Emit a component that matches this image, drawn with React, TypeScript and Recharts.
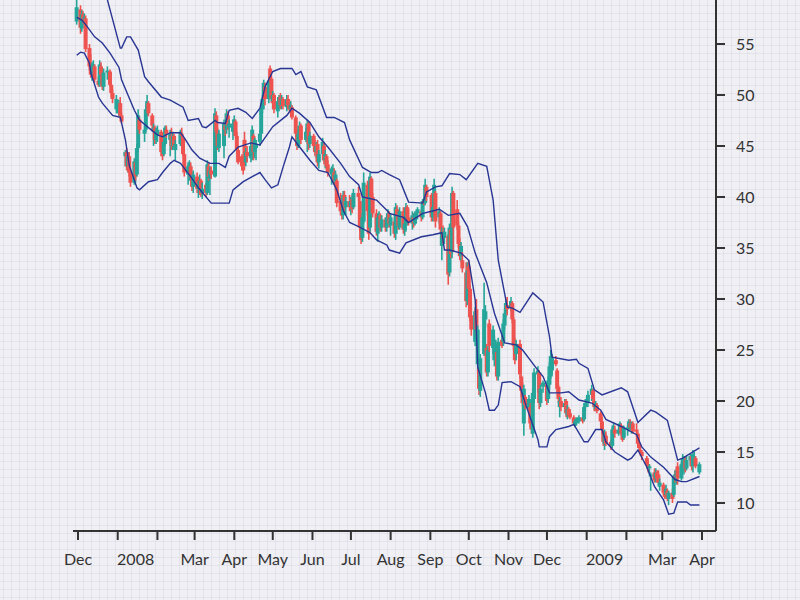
import { ComposedChart, Bar, Line, XAxis, YAxis } from 'recharts';

// [open, high, low, close]
type Candle = [number, number, number, number];

const nov07: Candle[] = [[57.2, 59.8, 56.9, 58.6]];
const dec07: Candle[] = [
  [58.4, 58.8, 56.0, 56.6], [56.5, 58.3, 56.2, 57.9], [57.9, 58.2, 57.0, 57.3], [57.4, 58.0, 56.8, 57.6],
  [57.5, 57.8, 54.2, 54.5], [54.6, 55.0, 52.4, 52.8], [53.0, 54.0, 51.7, 52.0], [52.0, 53.2, 51.4, 52.8],
  [52.6, 53.4, 51.8, 53.0], [52.8, 53.0, 51.2, 51.5], [51.4, 51.8, 50.8, 51.0], [51.0, 53.4, 50.8, 53.0],
  [52.8, 53.2, 51.6, 52.0], [51.8, 52.2, 50.5, 50.8], [50.8, 52.6, 50.4, 52.2], [52.2, 52.8, 51.5, 52.4],
  [52.3, 52.5, 50.8, 51.0], [51.0, 51.2, 49.8, 50.2], [50.2, 50.6, 49.2, 49.6], [48.6, 50.0, 48.2, 49.6],
];
const jan08: Candle[] = [
  [48.2, 49.5, 47.9, 49.2], [49.2, 49.8, 47.8, 48.0], [48.0, 48.3, 47.2, 47.4], [44.0, 44.6, 43.0, 44.4],
  [44.4, 44.8, 42.6, 43.0], [43.0, 44.4, 42.4, 44.0], [44.0, 44.4, 42.0, 42.4], [42.4, 42.8, 41.0, 41.4],
  [41.4, 43.8, 41.2, 43.5], [43.4, 43.8, 41.6, 42.0], [42.2, 45.2, 42.0, 44.8], [44.8, 48.6, 44.4, 48.0],
  [47.6, 47.8, 46.2, 46.6], [46.2, 47.0, 45.4, 46.6], [46.6, 49.0, 46.4, 48.6], [48.6, 50.0, 48.0, 49.4],
  [49.2, 49.4, 47.9, 48.2], [48.0, 48.2, 46.6, 47.0], [46.4, 47.2, 45.0, 46.8], [46.8, 47.0, 45.2, 45.6],
  [45.6, 46.8, 45.2, 46.4],
];
const feb08: Candle[] = [
  [46.0, 47.0, 45.4, 46.6], [46.4, 46.6, 44.0, 44.4], [44.4, 45.0, 43.6, 44.0], [44.2, 45.6, 44.0, 45.4],
  [45.2, 47.0, 45.0, 46.8], [46.6, 47.0, 45.8, 46.2], [45.6, 46.6, 44.0, 46.2], [46.0, 46.8, 44.6, 45.0],
  [45.0, 46.4, 44.6, 46.0], [46.0, 46.2, 44.8, 45.0], [44.6, 45.6, 43.6, 45.2], [45.2, 46.6, 45.0, 46.4],
  [46.2, 46.8, 45.6, 46.0], [45.8, 46.0, 44.0, 44.2], [44.2, 44.6, 42.0, 42.4], [42.2, 43.4, 41.2, 43.0],
  [42.8, 43.6, 41.6, 43.2], [43.0, 43.4, 41.6, 42.0], [41.8, 42.4, 40.6, 41.0], [41.0, 42.6, 40.4, 42.2],
];
const mar08: Candle[] = [
  [42.0, 42.4, 40.4, 40.8], [40.8, 41.6, 39.9, 41.2], [41.2, 42.2, 40.6, 41.6], [41.6, 41.8, 40.0, 40.2],
  [40.4, 41.4, 39.8, 40.8], [41.2, 41.4, 40.0, 40.4], [40.4, 43.6, 40.2, 43.2], [43.0, 43.4, 41.6, 42.0],
  [41.8, 43.0, 40.2, 42.6], [42.6, 43.0, 41.8, 42.2], [42.0, 48.7, 41.9, 48.2], [48.0, 48.4, 46.0, 46.4],
  [46.4, 46.8, 44.6, 45.0], [44.8, 46.6, 44.4, 46.2], [45.0, 47.6, 43.8, 47.2], [47.0, 47.4, 46.0, 46.6],
  [46.6, 48.6, 46.2, 48.2], [48.0, 48.4, 46.6, 47.0], [46.8, 47.6, 45.8, 47.2], [46.4, 47.6, 45.6, 47.2],
];
const apr08: Candle[] = [
  [46.4, 48.0, 46.0, 47.6], [47.4, 47.6, 45.8, 46.0], [46.0, 46.4, 44.2, 44.6], [44.6, 45.0, 43.2, 43.4],
  [44.0, 44.2, 42.6, 43.0], [43.0, 43.6, 42.2, 42.6], [45.6, 46.4, 43.0, 43.4], [43.4, 44.8, 43.0, 44.4],
  [44.4, 45.0, 43.4, 44.0], [43.8, 45.4, 43.4, 45.0], [44.2, 47.0, 43.6, 46.6], [46.0, 46.2, 43.6, 44.4],
  [44.4, 45.8, 43.8, 45.6], [44.8, 45.6, 43.6, 45.2], [45.4, 46.6, 45.0, 46.2], [46.2, 48.8, 45.9, 48.6],
  [48.6, 50.0, 48.2, 49.6], [49.6, 51.5, 48.6, 51.2], [50.8, 51.2, 49.0, 49.6], [49.6, 51.8, 49.2, 51.4],
  [52.6, 52.9, 51.3, 51.6], [51.6, 51.8, 49.2, 49.6],
];
const may08: Candle[] = [
  [49.4, 50.4, 48.6, 50.0], [50.0, 50.2, 48.2, 48.6], [48.4, 49.8, 47.8, 49.4], [49.2, 50.0, 48.6, 49.8],
  [49.8, 50.2, 48.6, 49.0], [49.0, 50.0, 48.6, 49.6], [49.6, 49.8, 48.6, 48.9], [48.8, 50.0, 48.4, 49.6],
  [49.6, 50.0, 48.6, 49.0], [49.2, 49.6, 48.4, 48.6], [48.6, 49.4, 48.2, 49.0], [48.8, 49.0, 47.6, 47.8],
  [47.8, 48.0, 45.8, 46.2], [46.2, 46.6, 44.6, 45.0], [45.0, 46.6, 44.8, 46.2], [46.0, 47.4, 45.6, 47.0],
  [47.0, 47.2, 45.2, 45.6], [45.6, 46.8, 45.4, 46.4], [46.0, 47.6, 44.4, 47.2], [47.2, 47.4, 44.6, 45.2],
  [45.2, 46.4, 44.8, 46.0],
];
const jun08: Candle[] = [
  [46.0, 46.2, 44.6, 45.0], [45.0, 45.6, 44.0, 44.4], [44.4, 45.4, 43.8, 45.0], [45.2, 45.6, 43.0, 43.4],
  [43.4, 44.6, 42.8, 44.2], [44.2, 45.8, 43.6, 45.4], [45.0, 45.4, 43.2, 43.6], [43.6, 44.6, 42.8, 44.2],
  [44.0, 44.2, 42.6, 43.0], [43.2, 43.6, 42.0, 42.4], [42.2, 43.0, 41.2, 42.8], [42.6, 43.2, 41.4, 42.8],
  [42.4, 42.8, 41.2, 41.6], [41.4, 42.6, 40.6, 42.2], [41.6, 41.8, 39.0, 39.4], [39.6, 40.4, 38.2, 38.6],
  [38.6, 39.4, 37.8, 38.2], [38.2, 40.6, 37.8, 40.2], [40.2, 40.6, 38.6, 39.0], [39.0, 40.0, 38.2, 39.6],
  [39.6, 40.2, 38.6, 39.0],
];
const jul08: Candle[] = [
  [39.0, 40.0, 38.2, 39.6], [39.8, 40.2, 38.4, 38.8], [39.0, 40.8, 38.8, 40.4], [40.4, 41.0, 39.6, 40.0],
  [39.6, 40.0, 36.6, 37.0], [37.0, 37.4, 35.4, 35.8], [36.0, 38.4, 35.6, 38.0], [37.6, 42.4, 37.4, 41.4],
  [41.2, 41.6, 38.2, 38.6], [38.4, 38.8, 35.8, 36.4], [37.0, 42.4, 36.6, 42.0], [41.8, 42.0, 39.6, 40.0],
  [40.0, 40.4, 38.0, 38.4], [38.4, 38.8, 36.2, 36.6], [36.4, 38.4, 35.6, 38.0], [38.0, 38.6, 36.8, 38.2],
  [38.2, 38.4, 36.6, 37.0], [37.0, 38.2, 36.6, 37.8], [37.8, 38.0, 36.6, 37.0], [37.0, 38.4, 36.6, 38.0],
  [38.0, 38.8, 37.4, 38.4], [38.4, 38.6, 37.0, 37.4],
];
const aug08: Candle[] = [
  [37.2, 38.4, 36.2, 38.0], [37.6, 38.0, 36.0, 36.4], [36.4, 39.4, 35.8, 39.0], [38.8, 39.2, 37.6, 38.2],
  [38.2, 38.6, 36.8, 37.2], [37.0, 39.0, 36.8, 38.6], [38.6, 39.0, 36.4, 36.8], [36.8, 37.6, 36.2, 37.4],
  [37.2, 39.4, 36.6, 39.0], [39.0, 39.2, 37.6, 38.0], [38.0, 38.8, 37.2, 37.6], [37.4, 38.6, 36.8, 38.2],
  [38.0, 38.4, 37.0, 37.4], [37.4, 38.6, 37.2, 38.4], [38.2, 38.6, 37.4, 38.4], [38.4, 39.0, 37.8, 38.8],
  [38.6, 38.8, 37.6, 38.0], [38.0, 39.8, 37.8, 39.6], [39.6, 40.0, 39.2, 39.4], [39.4, 41.8, 39.2, 41.2],
  [41.0, 41.2, 39.6, 40.0],
];
const sep08: Candle[] = [
  [40.2, 40.4, 37.6, 38.0], [38.0, 39.4, 37.6, 39.0], [39.0, 41.8, 38.6, 41.2], [40.4, 40.6, 37.0, 37.6],
  [38.0, 39.0, 37.4, 38.6], [38.4, 38.6, 36.4, 36.8], [35.2, 37.0, 33.8, 36.6], [36.6, 37.2, 35.4, 36.0],
  [36.0, 37.0, 35.4, 36.6], [36.2, 36.4, 31.4, 32.4], [32.6, 37.4, 32.2, 37.0], [36.8, 37.2, 34.0, 34.4],
  [34.6, 41.0, 34.0, 40.4], [40.4, 40.6, 34.6, 37.0], [38.8, 39.7, 36.8, 37.2], [37.2, 37.6, 35.0, 35.4],
  [35.4, 36.0, 33.8, 34.2], [34.2, 35.6, 33.6, 35.2], [33.8, 34.6, 32.6, 33.0], [32.6, 33.6, 29.2, 29.8],
  [29.8, 33.6, 29.4, 32.8],
];
const oct08: Candle[] = [
  [33.2, 33.8, 30.6, 31.0], [31.0, 31.4, 27.8, 28.2], [28.4, 29.6, 26.4, 27.0], [25.8, 29.2, 25.4, 28.8],
  [29.0, 30.0, 26.6, 27.0], [23.6, 27.4, 22.8, 27.0], [23.2, 23.4, 20.6, 21.2], [21.0, 24.6, 20.4, 24.2],
  [24.6, 31.6, 24.4, 29.0], [28.0, 29.4, 27.2, 28.8], [25.2, 25.6, 22.4, 22.8], [22.8, 25.4, 22.4, 25.0],
  [27.6, 28.0, 24.8, 25.4], [25.2, 27.4, 24.6, 27.0], [24.0, 26.4, 23.4, 26.0], [24.4, 26.0, 24.0, 25.6],
  [24.8, 25.2, 22.0, 22.4], [22.4, 26.2, 22.0, 25.8], [26.0, 26.4, 25.2, 25.4], [25.8, 28.0, 25.4, 27.6],
  [27.4, 29.0, 27.0, 28.6], [28.6, 30.0, 28.2, 29.6], [29.4, 30.2, 28.4, 29.0],
];
const nov08: Candle[] = [
  [29.2, 30.2, 28.8, 29.8], [29.6, 29.8, 27.6, 28.0], [28.0, 28.2, 25.0, 25.4], [25.4, 26.2, 23.6, 24.0],
  [24.6, 26.0, 24.0, 25.6], [25.6, 26.0, 22.2, 22.6], [22.4, 22.6, 20.4, 21.0], [21.0, 21.8, 19.4, 19.8],
  [17.8, 21.6, 16.6, 21.2], [20.4, 20.6, 19.2, 19.6], [19.2, 20.6, 18.8, 20.2], [19.4, 19.8, 17.4, 17.8],
  [18.0, 18.4, 16.8, 17.2], [16.8, 21.2, 16.4, 20.8], [20.2, 23.2, 19.8, 22.8], [22.6, 23.4, 20.8, 23.0],
  [22.8, 23.0, 19.2, 19.8], [19.8, 21.6, 19.4, 21.2], [21.4, 22.0, 20.8, 21.8],
];
const dec08: Candle[] = [
  [21.6, 21.8, 19.6, 20.0], [20.2, 22.4, 19.8, 22.0], [21.6, 23.8, 21.2, 23.4], [22.6, 25.0, 22.2, 24.4],
  [23.0, 24.6, 22.4, 24.2], [24.0, 24.4, 23.4, 23.6], [23.0, 23.2, 20.8, 21.2], [21.4, 21.6, 19.8, 20.2],
  [19.4, 20.4, 18.4, 20.0], [20.0, 20.4, 19.0, 19.4], [19.4, 20.2, 19.0, 19.8], [20.0, 20.2, 18.4, 18.8],
  [18.6, 19.6, 18.2, 19.2], [19.2, 19.4, 18.4, 18.6], [18.8, 19.2, 18.2, 18.4], [18.4, 18.6, 17.6, 17.8],
  [17.6, 18.2, 17.4, 18.0], [17.8, 18.4, 17.6, 18.2], [18.0, 18.6, 17.8, 18.4], [18.4, 18.8, 17.8, 18.0],
  [18.2, 19.8, 18.0, 19.4], [19.4, 20.2, 19.0, 19.8],
];
const jan09: Candle[] = [
  [19.8, 21.0, 19.4, 20.6], [20.6, 21.6, 20.0, 21.2], [21.0, 21.2, 19.8, 20.2], [20.0, 20.2, 19.0, 19.4],
  [19.2, 20.0, 19.0, 19.8], [19.6, 19.8, 18.8, 19.0], [18.8, 19.0, 17.6, 18.0], [18.0, 18.4, 16.8, 17.2],
  [17.0, 17.2, 15.6, 16.0], [15.8, 17.2, 15.2, 16.8], [16.6, 17.0, 15.6, 15.8], [16.0, 16.2, 15.2, 15.6],
  [15.6, 17.6, 15.4, 17.2], [17.0, 17.8, 16.6, 17.4], [17.2, 17.6, 16.4, 16.8], [16.8, 17.6, 16.6, 17.2],
  [17.4, 18.0, 17.0, 17.8], [17.6, 17.8, 16.6, 16.8], [16.8, 17.0, 16.0, 16.2], [16.4, 17.6, 16.2, 17.4],
];
const feb09: Candle[] = [
  [17.2, 17.6, 16.6, 17.4], [17.2, 18.2, 17.0, 18.0], [17.8, 18.2, 17.2, 17.4], [17.2, 18.0, 16.8, 17.8],
  [17.8, 18.0, 16.8, 17.0], [17.2, 17.8, 16.6, 17.0], [16.8, 17.0, 15.4, 15.8], [15.8, 16.0, 15.0, 15.4],
  [15.2, 15.6, 14.8, 15.0], [15.0, 15.2, 14.2, 14.6], [14.4, 14.6, 13.4, 13.8], [13.8, 14.2, 13.0, 13.4],
  [13.4, 13.8, 12.8, 13.6], [12.6, 13.0, 11.2, 12.8], [13.0, 13.4, 12.0, 12.2], [12.4, 13.4, 12.0, 13.0],
  [13.0, 13.2, 12.0, 12.4], [12.8, 13.2, 11.8, 12.0], [11.6, 12.4, 11.2, 12.0],
];
const mar09: Candle[] = [
  [11.8, 12.0, 10.8, 11.0], [11.0, 11.6, 10.4, 10.6], [10.8, 11.8, 10.6, 11.4], [11.2, 11.4, 10.2, 10.4],
  [10.4, 11.2, 9.8, 11.0], [11.0, 11.4, 10.0, 10.4], [10.8, 12.8, 10.6, 12.6], [12.6, 13.2, 12.0, 12.4],
  [12.2, 13.4, 11.8, 13.2], [13.6, 14.0, 11.8, 12.4], [12.4, 14.0, 12.2, 13.8], [13.2, 14.8, 13.0, 14.4],
  [13.2, 14.6, 12.8, 14.2], [14.2, 14.6, 13.0, 13.4], [13.4, 14.6, 13.2, 14.2], [14.2, 14.8, 13.6, 14.6],
  [14.6, 14.8, 13.2, 13.6], [13.6, 15.2, 13.0, 14.8], [14.4, 15.0, 13.8, 14.6], [14.4, 14.6, 13.4, 13.6],
  [13.0, 14.0, 12.8, 13.8],
];

// exchange holidays (no candle on these weekdays)
const holidays = [
  '2007-12-25', '2008-01-01', '2008-01-21', '2008-02-18', '2008-03-21', '2008-05-26', '2008-07-04',
  '2008-09-01', '2008-11-27', '2008-12-25', '2009-01-01', '2009-01-19', '2009-02-16',
];

// year, month, first day, last day, candles
const months: [number, number, number, number, Candle[]][] = [
  [2007, 11, 30, 30, nov07], [2007, 12, 1, 31, dec07], [2008, 1, 1, 31, jan08], [2008, 2, 1, 31, feb08],
  [2008, 3, 1, 31, mar08], [2008, 4, 1, 31, apr08], [2008, 5, 1, 31, may08], [2008, 6, 1, 31, jun08],
  [2008, 7, 1, 31, jul08], [2008, 8, 1, 31, aug08], [2008, 9, 1, 31, sep08], [2008, 10, 1, 31, oct08],
  [2008, 11, 1, 31, nov08], [2008, 12, 1, 31, dec08], [2009, 1, 1, 31, jan09], [2009, 2, 1, 31, feb09],
  [2009, 3, 1, 30, mar09],
];

const upperBand: [string, number][] = [
  ['2007-11-30', 60.8], ['2007-12-04', 60.6], ['2007-12-14', 61.6], ['2007-12-20', 61.0], ['2007-12-24', 59.3],
  ['2008-01-03', 54.6], ['2008-01-04', 54.6], ['2008-01-08', 55.7], ['2008-01-11', 55.7], ['2008-01-17', 54.4],
  ['2008-01-22', 51.8], ['2008-01-25', 51.3], ['2008-02-04', 49.8], ['2008-02-11', 49.5], ['2008-02-21', 48.8],
  ['2008-02-25', 47.5], ['2008-03-04', 47.7], ['2008-03-07', 46.9], ['2008-03-10', 46.8], ['2008-03-17', 47.5],
  ['2008-03-19', 47.3], ['2008-03-25', 47.2], ['2008-03-28', 48.5], ['2008-04-04', 48.7], ['2008-04-10', 48.3],
  ['2008-04-15', 47.7], ['2008-04-21', 48.7], ['2008-04-25', 50.8], ['2008-05-01', 52.3], ['2008-05-07', 52.6],
  ['2008-05-16', 52.6], ['2008-05-19', 52.0], ['2008-05-23', 52.3], ['2008-05-28', 50.8], ['2008-06-04', 50.5],
  ['2008-06-12', 47.8], ['2008-06-18', 47.8], ['2008-06-26', 47.3], ['2008-06-30', 45.6], ['2008-07-10', 42.9],
  ['2008-07-17', 42.4], ['2008-07-22', 42.4], ['2008-07-25', 42.6], ['2008-07-31', 42.2], ['2008-08-08', 41.7],
  ['2008-08-15', 39.5], ['2008-08-26', 39.4], ['2008-08-29', 40.5], ['2008-09-05', 41.0], ['2008-09-10', 41.1],
  ['2008-09-16', 42.3], ['2008-09-24', 42.2], ['2008-09-29', 41.7], ['2008-10-08', 43.3], ['2008-10-15', 43.0],
  ['2008-10-20', 39.7], ['2008-10-24', 33.8], ['2008-10-31', 29.2], ['2008-11-04', 29.1], ['2008-11-10', 28.7],
  ['2008-11-20', 30.6], ['2008-11-28', 29.7], ['2008-12-03', 26.3], ['2008-12-05', 24.3], ['2008-12-18', 24.0],
  ['2008-12-24', 24.1], ['2008-12-26', 23.7], ['2009-01-02', 23.2], ['2009-01-07', 21.1], ['2009-01-13', 20.6],
  ['2009-01-28', 21.3], ['2009-02-02', 20.9], ['2009-02-10', 17.9], ['2009-02-20', 19.1], ['2009-02-24', 18.9],
  ['2009-03-05', 18.1], ['2009-03-13', 14.2], ['2009-03-17', 14.4], ['2009-03-30', 15.4],
];
const middleBand: [string, number][] = [
  ['2007-11-30', 57.6], ['2007-12-04', 57.35], ['2007-12-07', 56.9], ['2007-12-14', 55.7], ['2007-12-20', 55.1],
  ['2007-12-26', 54.1], ['2008-01-02', 52.7], ['2008-01-04', 51.5], ['2008-01-09', 50.0], ['2008-01-14', 48.5],
  ['2008-01-18', 47.55], ['2008-01-25', 46.8], ['2008-02-01', 46.1], ['2008-02-05', 45.9], ['2008-02-11', 46.3],
  ['2008-02-19', 46.3], ['2008-02-22', 45.8], ['2008-02-28', 44.6], ['2008-03-05', 43.8], ['2008-03-13', 43.3],
  ['2008-03-20', 43.3], ['2008-03-25', 42.9], ['2008-03-28', 44.0], ['2008-04-04', 44.9], ['2008-04-14', 45.3],
  ['2008-04-21', 45.1], ['2008-05-01', 46.9], ['2008-05-12', 48.0], ['2008-05-16', 48.7], ['2008-05-22', 48.2],
  ['2008-05-30', 47.3], ['2008-06-06', 45.9], ['2008-06-13', 44.9], ['2008-06-23', 43.3], ['2008-06-30', 42.0],
  ['2008-07-07', 41.2], ['2008-07-10', 40.0], ['2008-07-21', 39.7], ['2008-07-29', 38.7], ['2008-07-31', 38.4],
  ['2008-08-11', 38.0], ['2008-08-15', 37.5], ['2008-08-26', 38.4], ['2008-09-02', 38.6], ['2008-09-08', 38.8],
  ['2008-09-15', 38.2], ['2008-09-24', 38.4], ['2008-09-30', 37.1], ['2008-10-06', 34.5], ['2008-10-15', 31.6],
  ['2008-10-21', 28.6], ['2008-10-29', 25.7], ['2008-11-07', 25.5], ['2008-11-12', 25.0], ['2008-11-24', 23.0],
  ['2008-11-28', 22.4], ['2008-12-03', 20.8], ['2008-12-12', 20.8], ['2008-12-18', 20.9], ['2008-12-26', 20.1],
  ['2009-01-05', 19.8], ['2009-01-12', 19.1], ['2009-01-16', 18.2], ['2009-01-28', 17.5], ['2009-02-09', 16.7],
  ['2009-02-13', 15.5], ['2009-02-20', 14.5], ['2009-03-02', 13.5], ['2009-03-11', 12.3], ['2009-03-16', 12.1],
  ['2009-03-20', 12.1], ['2009-03-30', 12.6],
];
const lowerBand: [string, number][] = [
  ['2007-11-30', 53.9], ['2007-12-03', 54.2], ['2007-12-06', 54.1], ['2007-12-10', 53.1], ['2007-12-11', 52.2],
  ['2007-12-17', 49.8], ['2007-12-18', 49.6], ['2007-12-20', 49.2], ['2007-12-28', 48.0], ['2008-01-03', 47.8],
  ['2008-01-07', 45.6], ['2008-01-10', 43.1], ['2008-01-16', 40.9], ['2008-01-18', 40.7], ['2008-01-25', 41.5],
  ['2008-02-01', 41.7], ['2008-02-05', 42.4], ['2008-02-11', 43.3], ['2008-02-14', 43.6], ['2008-02-19', 43.3],
  ['2008-02-22', 42.8], ['2008-02-27', 42.0], ['2008-03-04', 40.9], ['2008-03-10', 40.0], ['2008-03-14', 39.4],
  ['2008-03-28', 39.4], ['2008-03-31', 40.7], ['2008-04-08', 41.5], ['2008-04-15', 42.0], ['2008-04-21', 42.4],
  ['2008-04-25', 41.7], ['2008-04-30', 40.9], ['2008-05-05', 41.2], ['2008-05-09', 42.9], ['2008-05-14', 44.9],
  ['2008-05-16', 45.9], ['2008-05-22', 44.9], ['2008-05-30', 43.6], ['2008-06-06', 42.6], ['2008-06-13', 42.4],
  ['2008-06-20', 40.7], ['2008-06-25', 38.7], ['2008-06-30', 37.5], ['2008-07-07', 37.1], ['2008-07-16', 36.5],
  ['2008-07-21', 35.8], ['2008-07-29', 35.3], ['2008-07-31', 34.8], ['2008-08-08', 34.5], ['2008-08-13', 35.5],
  ['2008-08-25', 36.1], ['2008-09-03', 36.3], ['2008-09-10', 36.5], ['2008-09-12', 34.8], ['2008-09-16', 34.8],
  ['2008-09-25', 34.5], ['2008-10-01', 33.8], ['2008-10-06', 29.9], ['2008-10-08', 23.3], ['2008-10-14', 20.8],
  ['2008-10-17', 19.1], ['2008-10-21', 19.1], ['2008-10-24', 19.6], ['2008-10-27', 21.8], ['2008-11-03', 21.9],
  ['2008-11-10', 21.4], ['2008-11-14', 19.8], ['2008-11-24', 16.2], ['2008-11-25', 15.5], ['2008-12-01', 15.5],
  ['2008-12-03', 16.5], ['2008-12-08', 17.2], ['2008-12-18', 17.5], ['2008-12-22', 17.7], ['2008-12-30', 16.0],
  ['2009-01-02', 16.0], ['2009-01-08', 17.2], ['2009-01-13', 17.2], ['2009-01-16', 16.0], ['2009-01-23', 15.0],
  ['2009-02-02', 14.2], ['2009-02-05', 14.4], ['2009-02-10', 15.2], ['2009-02-17', 13.5], ['2009-02-23', 11.6],
  ['2009-03-02', 10.3], ['2009-03-06', 8.9], ['2009-03-10', 9.0], ['2009-03-13', 10.1], ['2009-03-20', 10.1],
  ['2009-03-23', 9.8], ['2009-03-30', 9.8],
];

const monthTicks = [
  '2007-12-01', '2008-01-01', '2008-02-01', '2008-03-01', '2008-04-01', '2008-05-01', '2008-06-01',
  '2008-07-01', '2008-08-01', '2008-09-01', '2008-10-01', '2008-11-01', '2008-12-01', '2009-01-01',
  '2009-02-01', '2009-03-01', '2009-04-01',
];
const monthLabels = ['Dec', '', '', 'Mar', 'Apr', 'May', 'Jun', 'Jul', 'Aug', 'Sep', 'Oct', 'Nov', 'Dec', '', '', 'Mar', 'Apr'];
const yearTicks = ['2008-01-15', '2009-01-15'];
const yearLabels = ['2008', '2009'];
const priceTicks = [10, 15, 20, 25, 30, 35, 40, 45, 50, 55];

const UP = '#26a69a';
const DOWN = '#ef5350';
const BAND = '#283593';
const INK = '#333333';
const FONT = 'Lato, "Open Sans", sans-serif';

const EPOCH = Date.UTC(2007, 11, 1);
const dayNum = (s: string) =>
  (Date.UTC(+s.slice(0, 4), +s.slice(5, 7) - 1, +s.slice(8, 10)) - EPOCH) / 864e5;
const pad = (n: number) => String(n).padStart(2, '0');

const tradingDays = (y: number, m: number, from: number, to: number) => {
  const out: string[] = [];
  for (let d = from; d <= to; d++) {
    const dt = new Date(Date.UTC(y, m - 1, d));
    if (dt.getUTCMonth() !== m - 1) break;
    const wd = dt.getUTCDay();
    const s = `${y}-${pad(m)}-${pad(d)}`;
    if (wd === 0 || wd === 6 || holidays.includes(s)) continue;
    out.push(s);
  }
  return out;
};

const candleRows = months.flatMap(([y, m, from, to, cs]) =>
  tradingDays(y, m, from, to)
    .slice(0, cs.length)
    .map((d, i) => {
      const [open, high, low, close] = cs[i];
      return { x: dayNum(d), open, high, low, close, range: [low, high] };
    })
);

const toRows = (pts: [string, number][]) => pts.map(([d, v]) => ({ x: dayNum(d), v }));

const tickSpec = new Map<number, { label: string; mark: boolean }>();
monthTicks.forEach((d, i) => tickSpec.set(dayNum(d), { label: monthLabels[i], mark: true }));
yearTicks.forEach((d, i) => tickSpec.set(dayNum(d), { label: yearLabels[i], mark: false }));
const xTicks = [...tickSpec.keys()].sort((a, b) => a - b);

const CandleShape = (props: any) => {
  const { x, y, width, height, payload } = props;
  if (!payload || x == null || y == null) return null;
  const { open, high, low, close } = payload;
  const top = Math.min(y, y + height);
  const h = Math.abs(height);
  const ppu = h / (high - low || 1);
  const cx = x + width / 2;
  const yo = top + (high - open) * ppu;
  const yc = top + (high - close) * ppu;
  const color = close >= open ? UP : DOWN;
  return (
    <g>
      <line x1={cx} x2={cx} y1={top} y2={top + h} stroke={color} strokeWidth={1.6} />
      <rect x={cx - 2} y={Math.min(yo, yc)} width={4} height={Math.max(1.5, Math.abs(yc - yo))} fill={color} />
    </g>
  );
};

const XTick = (props: any) => {
  const { x, y, payload } = props;
  const spec = tickSpec.get(payload.value);
  if (!spec) return null;
  return (
    <g>
      {spec.mark && <line x1={x} x2={x} y1={y} y2={y + 9} stroke={INK} strokeWidth={2} />}
      {spec.label && (
        <text x={x} y={y + 34} textAnchor="middle" fill={INK} fontSize={16} fontFamily={FONT}>
          {spec.label}
        </text>
      )}
    </g>
  );
};

const App = () => (
  <div
    style={{
      position: 'absolute',
      left: 0,
      top: 0,
      width: 800,
      height: 600,
      backgroundColor: '#efeff4',
      backgroundImage:
        'linear-gradient(to right, rgba(200,200,216,0.28) 1px, transparent 1px), linear-gradient(to bottom, rgba(200,200,216,0.28) 1px, transparent 1px)',
      backgroundSize: '8px 8px',
      backgroundPosition: '3px 5px',
    }}
  >
    <ComposedChart width={800} height={600} data={candleRows} margin={{ top: 0, right: 0, bottom: 0, left: 73 }}>
      <XAxis
        type="number"
        dataKey="x"
        domain={[-3.9, 497.93]}
        allowDataOverflow
        ticks={xTicks}
        interval={0}
        tick={<XTick />}
        tickLine={false}
        tickSize={0}
        tickMargin={0}
        axisLine={{ stroke: INK, strokeWidth: 2 }}
        height={69}
      />
      <YAxis
        orientation="right"
        domain={[7.255, 59.314]}
        allowDataOverflow
        ticks={priceTicks}
        interval={0}
        width={84}
        tickSize={9}
        tickMargin={11}
        tickLine={{ stroke: INK, strokeWidth: 2 }}
        axisLine={{ stroke: INK, strokeWidth: 2 }}
        tick={{ fill: INK, fontSize: 16, fontFamily: FONT }}
      />
      <Bar dataKey="range" barSize={3} shape={CandleShape} isAnimationActive={false} />
      <Line data={toRows(upperBand)} dataKey="v" type="linear" stroke={BAND} strokeWidth={1.4} dot={false} activeDot={false} isAnimationActive={false} />
      <Line data={toRows(middleBand)} dataKey="v" type="linear" stroke={BAND} strokeWidth={1.4} dot={false} activeDot={false} isAnimationActive={false} />
      <Line data={toRows(lowerBand)} dataKey="v" type="linear" stroke={BAND} strokeWidth={1.4} dot={false} activeDot={false} isAnimationActive={false} />
    </ComposedChart>
  </div>
);

export default App;
